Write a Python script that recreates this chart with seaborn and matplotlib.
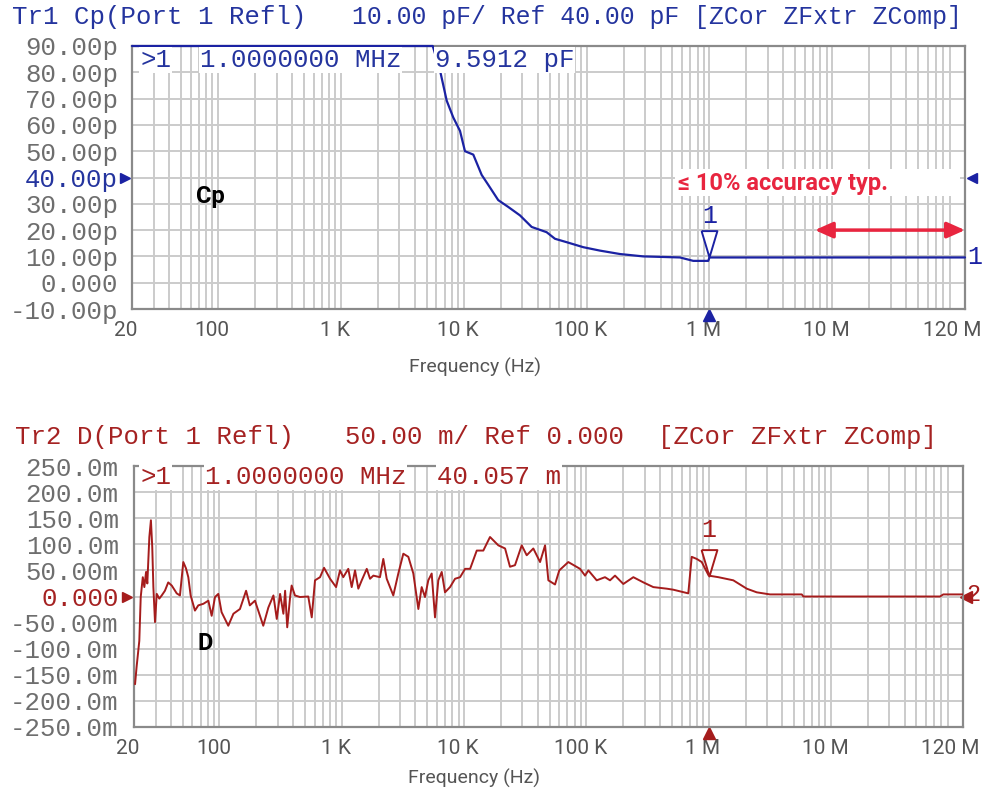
import numpy as np
import pandas as pd
import matplotlib
matplotlib.use('Agg')
import matplotlib.pyplot as plt
import matplotlib.ticker as mticker
import matplotlib.transforms as mtransforms
from matplotlib.patches import Rectangle
import seaborn as sns

# --- data ---
x_ticks = [20, 100, 1e3, 1e4, 1e5, 1e6, 1e7, 1.2e8]
x_labels = ['20', '100', '1 K', '10 K', '100 K', '1 M', '10 M', '120 M']

cp_ticks = [90, 80, 70, 60, 50, 40, 30, 20, 10, 0, -10]
cp_labels = ['90.00p', '80.00p', '70.00p', '60.00p', '50.00p', '40.00p',
             '30.00p', '20.00p', '10.00p', '0.000', '-10.00p']
d_ticks = [250, 200, 150, 100, 50, 0, -50, -100, -150, -200, -250]
d_labels = ['250.0m', '200.0m', '150.0m', '100.0m', '50.00m', '0.000',
            '-50.00m', '-100.0m', '-150.0m', '-200.0m', '-250.0m']

# Cp trace (pF), saturated at the 90 pF top of screen below ~5.6 kHz
cp_freq = [20, 5600, 6411, 7275, 8231, 9333, 10240, 11970, 14000, 15850,
           19100, 23050, 28700, 35730, 47300, 55330, 68870, 94000, 128500,
           187000, 289000, 575000, 738000, 977000, 1.0e6, 1.2e8]
cp_val = [90, 90, 80.8, 69.2, 62.8, 57.7, 50.0, 48.7, 41.0, 37.2,
          31.4, 28.8, 25.6, 21.2, 19.2, 16.7, 15.4, 13.5, 12.2,
          10.9, 10.0, 9.6, 8.3, 8.3, 9.59, 9.6]

# D trace (milli-units)
d_freq = [20.4, 21.0, 22.1, 22.7, 23.6, 24.3, 25.1, 25.7, 26.7, 27.5,
          28.2, 28.8, 29.7, 30.7, 32.2, 33.7, 35.8, 38.1, 40.7, 44.7,
          47.5, 50.6, 53.2, 55.6, 58.1, 63.0, 67.1, 73.8, 81.1, 86.3,
          91.9, 97.8, 104, 118, 130, 147, 165, 177, 195, 228,
          251, 276, 294, 313, 333, 344, 358, 378, 389, 414,
          455, 532, 568, 604, 664, 716, 802, 898, 967, 1028,
          1130, 1205, 1283, 1365, 1456, 1600, 1702, 1812, 2052, 2185,
          2329, 2637, 2898, 3185, 3500, 3846, 4227, 4500, 4789, 5096,
          5433, 5783, 6153, 6562, 6982, 7674, 8434, 9272, 10190, 11200,
          12690, 14360, 16290, 19050, 21630, 23720, 26070, 29590, 32510, 36810,
          41790, 45920, 48860, 55390, 60000, 71120, 88700, 97500, 103800, 121400,
          141900, 156000, 171400, 200400, 242000, 292500, 352500, 454000, 514000, 681000,
          726000, 798000, 877000, 1.0e6, 1.2e6, 1.589e6, 2.046e6, 2.47e6, 3.17e6, 5.77e6,
          5.94e6, 7.78e7, 8.28e7, 1.2e8]
d_val = [-168, -135, -85, -1, 37, 18, 47, 25, 114, 146,
         95, 18, -49, 5, -4, 2, 11, 27, 21, 6,
         2, 66, 54, 37, 2, -27, -17, -14, -8, -37,
         -1, 5, -30, -56, -33, -24, 11, -17, -8, -56,
         -21, 2, -43, 5, -33, 11, -59, -1, 21, 2,
         -1, 0, -40, 31, 37, 55, 34, 18, 50, 37,
         53, 18, 50, 15, 31, 53, 34, 40, 37, 72,
         34, 2, 44, 82, 76, 44, -24, 18, -1, 31,
         44, -40, 31, 47, 8, 18, 34, 37, 53, 53,
         88, 88, 114, 98, 92, 57, 60, 98, 79, 92,
         66, 98, 31, 23, 50, 66, 53, 40, 50, 31,
         37, 31, 40, 24, 37, 27, 18, 15, 13, 6,
         76, 72, 66, 40, 37, 31, 15, 8, 4, 4,
         0, 0, 4, 4]

cp_df = pd.DataFrame({'freq': cp_freq, 'cp': cp_val})
d_df = pd.DataFrame({'freq': d_freq, 'd': d_val})

BLUE = '#1b22a3'
BLUE_TXT = '#24349e'
RED = '#a51c1c'
RED_TXT = '#a52222'
ACC_RED = '#e8253f'
GRID = '#cbcbcb'
TICK_GREY = '#6e6e6e'
MONO = 'Liberation Mono'
SANS = ['Roboto', 'DejaVu Sans']

sns.set_theme(style='white')
plt.rcParams['font.family'] = ['DejaVu Sans']

W, H = 985, 799
fig = plt.figure(figsize=(W / 100, H / 100), dpi=100)


def px(x, y):
    return x / W, 1 - y / H


ax1 = fig.add_axes([132 / W, 1 - 309 / H, (965 - 132) / W, (309 - 46) / H])
ax2 = fig.add_axes([134 / W, 1 - 727 / H, (963 - 134) / W, (727 - 466) / H])

sns.lineplot(data=cp_df, x='freq', y='cp', ax=ax1, color=BLUE, lw=1.6,
             estimator=None, sort=False, clip_on=False, zorder=5)
sns.lineplot(data=d_df, x='freq', y='d', ax=ax2, color=RED, lw=1.4,
             estimator=None, sort=False, zorder=5)


def style_axis(ax, yticks, ylabels, ref_idx, ref_color, ylim, ypad):
    ax.set_xscale('log')
    ax.set_xlim(20, 1.2e8)
    ax.set_ylim(*ylim)
    ax.set_xticks(x_ticks)
    ax.set_xticklabels(x_labels)
    ax.xaxis.set_minor_locator(mticker.LogLocator(base=10, subs=np.arange(2, 10), numticks=20))
    ax.xaxis.set_minor_formatter(mticker.NullFormatter())
    ax.set_yticks(yticks)
    ax.set_yticklabels(ylabels)
    ax.grid(True, which='both', axis='x', color=GRID, lw=1.4)
    ax.grid(True, which='major', axis='y', color=GRID, lw=1.4)
    ax.set_axisbelow(True)
    ax.tick_params(which='both', length=0)
    ax.tick_params(axis='y', pad=ypad)
    ax.tick_params(axis='x', pad=9)
    for lab in ax.get_yticklabels():
        lab.set_family(MONO)
        lab.set_fontsize(18.5)
        lab.set_color(TICK_GREY)
    ax.get_yticklabels()[ref_idx].set_color(ref_color)
    labs = ax.get_xticklabels()
    for i, lab in enumerate(labs):
        dx = -0.13 if i == len(labs) - 1 else -0.06
        shift = mtransforms.ScaledTranslation(dx, 0, fig.dpi_scale_trans)
        lab.set_family(SANS)
        lab.set_fontsize(15)
        lab.set_color('#555555')
        lab.set_transform(lab.get_transform() + shift)
    for sp in ax.spines.values():
        sp.set_color('#8a8a8a')
        sp.set_linewidth(1.6)
    ax.set_xlabel('Frequency (Hz)', fontsize=14, color='#555555', family=SANS)
    ax.set_ylabel('')


style_axis(ax1, cp_ticks, cp_labels, 5, BLUE_TXT, (-10, 90), 10)
style_axis(ax2, d_ticks, d_labels, 5, RED_TXT, (-250, 250), 11)
ax1.xaxis.set_label_coords(0.412, -0.185)
ax2.xaxis.set_label_coords(0.410, -0.16)

# reference-level and stimulus markers
for ax, ref, col in [(ax1, 40, BLUE), (ax2, 0, RED)]:
    ax.plot([-0.009], [ref], marker='>', ms=7, color=col,
            transform=ax.get_yaxis_transform(), clip_on=False)
    ax.plot([1e6], [-0.022], marker='^', ms=9, color=col,
            transform=ax.get_xaxis_transform(), clip_on=False)

ax1.plot([1.008], [40], marker='<', ms=7, color=BLUE,
         transform=ax1.get_yaxis_transform(), clip_on=False)
ax1.text(1.003, 9.6, '1', transform=ax1.get_yaxis_transform(), ha='left',
         va='center', color=BLUE, family=MONO, fontsize=18)
ax2.plot([1.004], [0], marker='<', ms=8, color=RED,
         transform=ax2.get_yaxis_transform(), clip_on=False)
ax2.text(1.004, 4, '2', transform=ax2.get_yaxis_transform(), ha='left',
         va='center', color=RED, family=MONO, fontsize=17)

# marker 1 glyph (tall open triangle with label)
tri = [(-0.3, 1.0), (0.3, 1.0), (0.0, 0.0), (-0.3, 1.0)]
for ax, val, col, off in [(ax1, 9.59, BLUE, 30), (ax2, 40.057, RED, 33)]:
    ax.plot([1e6], [val], marker=tri, ms=38, mfc='white', mec=col, mew=1.4,
            zorder=6, clip_on=False)
    ax.annotate('1', xy=(1e6, val), xytext=(0, off), textcoords='offset points',
                ha='center', va='center', color=col, family=MONO, fontsize=18)

# trace names
ax1.text(0.077, 0.403, 'Cp', transform=ax1.transAxes, fontsize=17,
         fontweight='bold', color='black', family=SANS)
ax2.text(0.076, 0.295, 'D', transform=ax2.transAxes, fontsize=17,
         fontweight='bold', color='black', family=SANS)

# accuracy note
ax1.add_patch(Rectangle((0.652, 0.428), 0.342, 0.106, transform=ax1.transAxes,
                        facecolor='white', edgecolor='none', zorder=3))
ax1.text(0.655, 0.452, '\u2264 10% accuracy typ.', transform=ax1.transAxes,
         fontsize=17, fontweight='bold', color=ACC_RED, zorder=4, family=SANS)
ax1.annotate('', xy=(1.2e8, 20), xytext=(7.2e6, 20),
             arrowprops=dict(arrowstyle='<|-|>,head_length=0.9,head_width=0.4',
                             color=ACC_RED, lw=2.5, shrinkA=0, shrinkB=0))

# header lines
hdr = dict(family=MONO, fontsize=18.5, va='center', ha='left')
fig.text(*px(12, 17), 'Tr1 Cp(Port 1 Refl)', color=BLUE_TXT, **hdr)
fig.text(*px(352, 17), '10.00 pF/ Ref 40.00 pF [ZCor ZFxtr ZComp]', color=BLUE_TXT,
         family=MONO, fontsize=17.8, va='center', ha='left')
fig.text(*px(15, 437), 'Tr2 D(Port 1 Refl)', color=RED_TXT, **hdr)
fig.text(*px(345, 437), '50.00 m/ Ref 0.000', color=RED_TXT, **hdr)
fig.text(*px(658, 437), '[ZCor ZFxtr ZComp]', color=RED_TXT, **hdr)

# marker readouts
box = dict(facecolor='white', edgecolor='none', pad=0.5)
for x, s in [(140, '>1'), (200, '1.0000000 MHz'), (435, '9.5912 pF')]:
    fig.text(*px(x, 60), s, color=BLUE_TXT, bbox=box, **hdr)
for x, s in [(140, '>1'), (205, '1.0000000 MHz'), (437, '40.057 m')]:
    fig.text(*px(x, 477), s, color=RED_TXT, bbox=box, **hdr)

fig.savefig('out.png', dpi=100, facecolor='white')
